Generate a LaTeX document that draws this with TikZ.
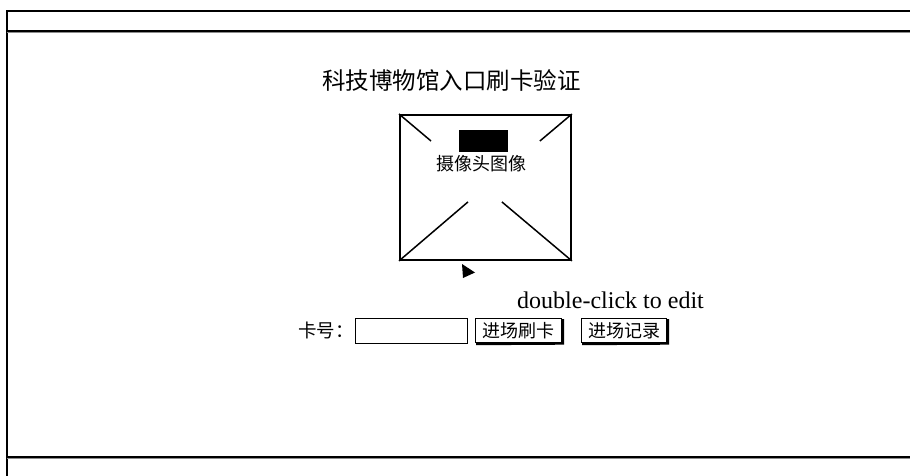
\documentclass[tikz,border=0pt]{standalone}
\usepackage{fontspec}
\setmainfont{Liberation Serif}
\newfontfamily\cjk{Noto Sans CJK SC}
\tikzset{
  frameline/.style={line width=1.5pt, black},
  shadeline/.style={line width=1.2pt, black!45},
  camframe/.style={draw, line width=1.9pt, minimum width=171pt, minimum height=145pt, inner sep=0pt, anchor=north west},
  diag/.style={line width=1.5pt},
  inputbox/.style={draw, line width=1.3pt, minimum width=112pt, minimum height=25pt, inner sep=0pt, anchor=north west},
  btn/.style={draw, line width=1.3pt, inner sep=0pt, minimum height=24pt, anchor=north west, font=\cjk\fontsize{18}{18}\selectfont},
  btnshadow/.style={line width=2.2pt, black},
}
\begin{document}
\begin{tikzpicture}[x=1pt,y=-1pt]
\useasboundingbox (0,0) rectangle (910,476);
% frame
\draw[frameline] (7,476) -- (7,11) -- (910,11);
\draw[frameline] (7,31) -- (910,31);
\draw[shadeline] (7,32.6) -- (910,32.6);
\draw[frameline] (7,457) -- (910,457);
\draw[shadeline] (7,458.6) -- (910,458.6);
% title
\node[font=\cjk\fontsize{23.5}{24}\selectfont, inner sep=0pt] (title) at (451.5,81) {科技博物馆入口刷卡验证};
% camera placeholder
\node[camframe] (cam) at (399,114) {};
\draw[diag] (cam.north west) -- ++(32,27);
\draw[diag] (cam.north east) -- ++(-32,27);
\draw[diag] (cam.south west) -- ++(69,-59);
\draw[diag] (cam.south east) -- ++(-70,-59);
\node[fill=black, minimum width=49pt, minimum height=22pt, inner sep=0pt, anchor=north west] (blk) at (459,130) {};
\node[font=\cjk\fontsize{18}{18}\selectfont, inner sep=0pt] (camlabel) at (481,164) {摄像头图像};
% cursor
\fill (462,264) -- (475,272.5) -- (463,278) -- cycle;
% double-click text
\node[font=\fontsize{24}{24}\selectfont, inner sep=0pt, anchor=west] (dbl) at (517,300) {double-click to edit};
% card number row
\node[font=\cjk\fontsize{18.5}{19}\selectfont, inner sep=0pt, anchor=west] (lbl) at (298,330) {卡号：};
\node[inputbox] (input) at (355,318) {};
\node[btn, minimum width=86pt] (b1) at (475,318) {进场刷卡};
\draw[btnshadow] (b1.north east) ++(0.8,1) -- ++(0,24.6) -- ([xshift=1pt,yshift=-0.8pt]b1.south west);
\node[btn, minimum width=85pt] (b2) at (581,318) {进场记录};
\draw[btnshadow] (b2.north east) ++(0.8,1) -- ++(0,24.6) -- ([xshift=1pt,yshift=-0.8pt]b2.south west);
\end{tikzpicture}
\end{document}
